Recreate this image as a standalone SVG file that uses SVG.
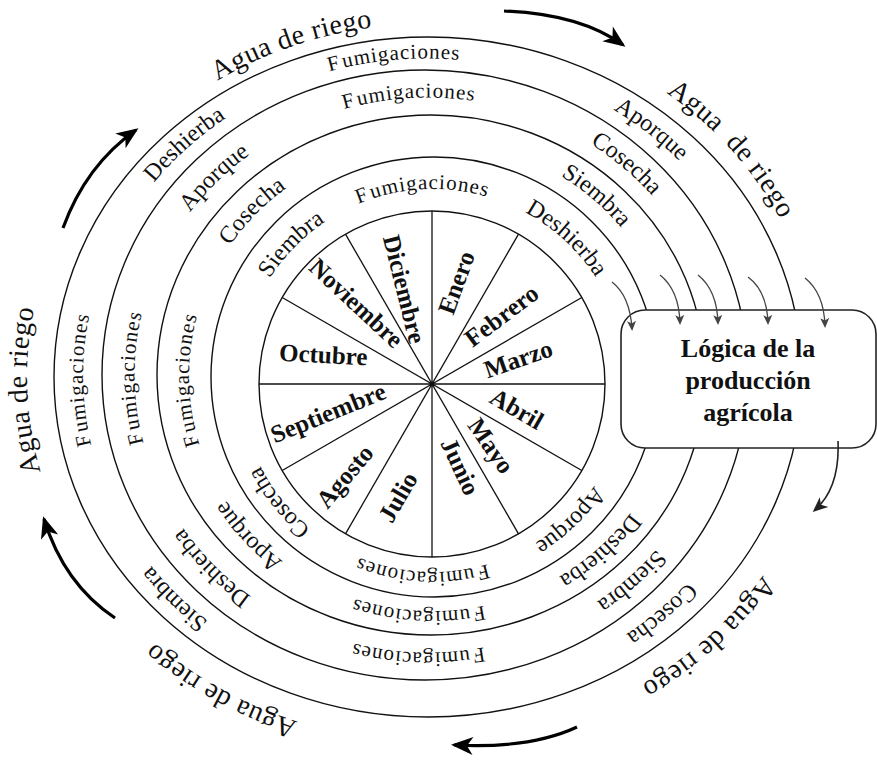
<svg xmlns="http://www.w3.org/2000/svg" width="877" height="765" viewBox="0 0 877 765">
<style>
.ring{fill:none;stroke:#111;stroke-width:1.4}
.spoke{stroke:#111;stroke-width:1.3}
.lbl{font-family:"Liberation Serif","Times New Roman",serif;font-size:24px;fill:#111;text-anchor:middle}
.fum{font-family:"Liberation Serif","Times New Roman",serif;font-size:21px;letter-spacing:1px;fill:#111;text-anchor:middle}
.agua{font-family:"Liberation Serif","Times New Roman",serif;font-size:28px;letter-spacing:0.5px;fill:#111;text-anchor:middle}
.mon{font-family:"Liberation Serif","Times New Roman",serif;font-size:25px;font-weight:bold;fill:#111;text-anchor:middle}
.boxt{font-family:"Liberation Serif","Times New Roman",serif;font-size:26px;font-weight:bold;fill:#111;text-anchor:middle}
.big{fill:none;stroke:#000;stroke-width:3.2}
.small{fill:none;stroke:#444;stroke-width:1.3}
.med{fill:none;stroke:#222;stroke-width:1.6}
</style>
<defs>
<marker id="bigHead" markerUnits="userSpaceOnUse" orient="auto" overflow="visible" refX="0" refY="0" markerWidth="1" markerHeight="1"><path d="M3,0 L-19,-9 L-13,0 L-19,9 Z" fill="#000"/></marker>
<marker id="smallHead" markerUnits="userSpaceOnUse" orient="auto" overflow="visible" refX="0" refY="0" markerWidth="1" markerHeight="1"><path d="M2,0 L-8,-4.5 L-5.5,0 L-8,4.5 Z" fill="#444"/></marker>
<marker id="medHead" markerUnits="userSpaceOnUse" orient="auto" overflow="visible" refX="0" refY="0" markerWidth="1" markerHeight="1"><path d="M3,0 L-12,-6.5 L-8,0 L-12,6.5 Z" fill="#222"/></marker>
<path id="pD1" d="M181.1,153.8 A343.5,317.5 0 0 1 620.6,114.0"/>
<path id="pD2" d="M84.3,348.3 A343.5,317.5 0 0 1 396.6,59.7"/>
<path id="pD3" d="M433.1,58.6 A343.5,317.5 0 0 1 765.9,326.9"/>
<path id="pD4" d="M166.1,583.0 A343.5,317.5 0 0 1 160.7,174.9"/>
<path id="pD5" d="M382.8,690.9 A343.5,317.5 0 0 1 83.4,391.0"/>
<path id="pD6" d="M767.7,412.5 A343.5,317.5 0 0 1 446.9,692.9"/>
<path id="pC1" d="M224.9,174.7 A293.5,277.5 0 0 1 601.3,151.1"/>
<path id="pC2" d="M135.1,357.6 A293.5,277.5 0 0 1 395.3,99.2"/>
<path id="pC3" d="M439.8,97.7 A293.5,277.5 0 0 1 718.9,337.8"/>
<path id="pC4" d="M205.1,555.6 A293.5,277.5 0 0 1 201.2,198.9"/>
<path id="pC5" d="M390.2,650.2 A293.5,277.5 0 0 1 134.8,387.6"/>
<path id="pC6" d="M608.7,593.7 A293.5,277.5 0 0 1 231.6,581.2"/>
<path id="pC7" d="M719.7,405.4 A293.5,277.5 0 0 1 446.9,651.9"/>
<path id="pB1" d="M189.3,363.7 A243.5,235 0 0 1 402.8,142.8"/>
<path id="pB2" d="M439.7,141.1 A243.5,235 0 0 1 673.4,342.1"/>
<path id="pB3" d="M248.7,530.2 A243.5,235 0 0 1 243.3,228.1"/>
<path id="pB4" d="M396.9,608.5 A243.5,235 0 0 1 189.1,382.6"/>
<path id="pB5" d="M577.7,564.7 A243.5,235 0 0 1 265.2,546.8"/>
<path id="pB6" d="M674.3,403.8 A243.5,235 0 0 1 446.1,610.6"/>
<path id="pA1" d="M300.9,240.9 A193,191.5 0 0 1 548.6,227.2"/>
<path id="pA2" d="M240.5,367.1 A193,191.5 0 0 1 412.8,190.1"/>
<path id="pA3" d="M443.1,189.3 A193,191.5 0 0 1 624.6,357.2"/>
<path id="pA4" d="M394.5,568.1 A193,191.5 0 0 1 240.1,375.5"/>
<path id="pA5" d="M548.6,533.8 A193,191.5 0 0 1 300.9,520.1"/>
<path id="pA6" d="M625.1,399.5 A193,191.5 0 0 1 447.5,571.5"/>
<path id="pE1" d="M88.6,208.5 A385,351 0 0 1 553.7,43.2"/>
<path id="pE2" d="M506.9,26.6 A392.5,357.7 0 0 1 820.3,387.0"/>
<path id="pE3" d="M130,621.6 A401,365.5 0 0 1 112,152"/>
<path id="pE4" d="M483.6,737.9 A399.7,364.4 0 0 1 47.9,489.6"/>
<path id="pE5" d="M826.2,404.9 A399.4,364 0 0 1 467,739.3"/>
</defs>
<rect width="877" height="765" fill="#fff"/>
<g id="rings">
<circle class="ring" cx="432" cy="384" r="173"/>
<ellipse class="ring" cx="434" cy="377" rx="223" ry="220"/>
<ellipse class="ring" cx="431" cy="375" rx="274" ry="260"/>
<ellipse class="ring" cx="425" cy="375" rx="323" ry="305"/>
<ellipse class="ring" cx="428" cy="377" rx="374" ry="340"/>
</g>
<g id="spokes">
<line class="spoke" x1="432" y1="211" x2="432" y2="557"/>
<line class="spoke" x1="259" y1="384" x2="605" y2="384"/>
<line class="spoke" x1="518.5" y1="234.2" x2="345.5" y2="533.8"/>
<line class="spoke" x1="581.8" y1="297.5" x2="282.2" y2="470.5"/>
<line class="spoke" x1="581.8" y1="470.5" x2="282.2" y2="297.5"/>
<line class="spoke" x1="518.5" y1="533.8" x2="345.5" y2="234.2"/>
<circle cx="432" cy="384" r="2.5" fill="#111"/>
</g>
<g id="months">
<text class="mon" transform="translate(456.7,282.7) rotate(-70)" y="8">Enero</text>
<text class="mon" transform="translate(501.7,316) rotate(-37)" y="8">Febrero</text>
<text class="mon" transform="translate(518.3,359.3) rotate(-19)" y="8">Marzo</text>
<text class="mon" transform="translate(516.7,409.3) rotate(30)" y="8">Abril</text>
<text class="mon" transform="translate(490.7,446) rotate(55)" y="8">Mayo</text>
<text class="mon" transform="translate(460,466.7) rotate(65)" y="8">Junio</text>
<text class="mon" transform="translate(398.3,497.3) rotate(-60)" y="8">Julio</text>
<text class="mon" transform="translate(345,476.7) rotate(-50)" y="8">Agosto</text>
<text class="mon" transform="translate(328.3,413.3) rotate(-22)" y="8">Septiembre</text>
<text class="mon" transform="translate(323.3,355) rotate(3)" y="8">Octubre</text>
<text class="mon" transform="translate(356,303.3) rotate(43)" y="8">Noviembre</text>
<text class="mon" transform="translate(404,289.3) rotate(76)" y="8">Diciembre</text>
</g>
<g id="ring-labels">
<text class="fum"><textPath href="#pD1" startOffset="50%">F<tspan dx="2">umigaciones</tspan></textPath></text>
<text class="lbl"><textPath href="#pD2" startOffset="50%">Deshierba</textPath></text>
<text class="lbl"><textPath href="#pD3" startOffset="50%">Aporque</textPath></text>
<text class="fum"><textPath href="#pD4" startOffset="50%">F<tspan dx="2">umigaciones</tspan></textPath></text>
<text class="lbl"><textPath href="#pD5" startOffset="50%">Siembra</textPath></text>
<text class="lbl"><textPath href="#pD6" startOffset="50%">Cosecha</textPath></text>
<text class="fum"><textPath href="#pC1" startOffset="50%">F<tspan dx="2">umigaciones</tspan></textPath></text>
<text class="lbl"><textPath href="#pC2" startOffset="50%">Aporque</textPath></text>
<text class="lbl"><textPath href="#pC3" startOffset="50%">Cosecha</textPath></text>
<text class="fum"><textPath href="#pC4" startOffset="50%">F<tspan dx="2">umigaciones</tspan></textPath></text>
<text class="lbl"><textPath href="#pC5" startOffset="50%">Deshierba</textPath></text>
<text class="fum"><textPath href="#pC6" startOffset="50%">F<tspan dx="2">umigaciones</tspan></textPath></text>
<text class="lbl"><textPath href="#pC7" startOffset="50%">Siembra</textPath></text>
<text class="lbl"><textPath href="#pB1" startOffset="50%">Cosecha</textPath></text>
<text class="lbl"><textPath href="#pB2" startOffset="50%">Siembra</textPath></text>
<text class="fum"><textPath href="#pB3" startOffset="50%">F<tspan dx="2">umigaciones</tspan></textPath></text>
<text class="lbl"><textPath href="#pB4" startOffset="50%">Aporque</textPath></text>
<text class="fum"><textPath href="#pB5" startOffset="50%">F<tspan dx="2">umigaciones</tspan></textPath></text>
<text class="lbl"><textPath href="#pB6" startOffset="50%">Deshierba</textPath></text>
<text class="fum"><textPath href="#pA1" startOffset="50%">F<tspan dx="2">umigaciones</tspan></textPath></text>
<text class="lbl"><textPath href="#pA2" startOffset="50%">Siembra</textPath></text>
<text class="lbl"><textPath href="#pA3" startOffset="50%">Deshierba</textPath></text>
<text class="lbl"><textPath href="#pA4" startOffset="50%">Cosecha</textPath></text>
<text class="fum"><textPath href="#pA5" startOffset="50%">F<tspan dx="2">umigaciones</tspan></textPath></text>
<text class="lbl"><textPath href="#pA6" startOffset="50%">Aporque</textPath></text>
<text class="agua"><textPath href="#pE1" startOffset="50%">Agua de riego</textPath></text>
<text class="agua"><textPath href="#pE2" startOffset="50%">Agua<tspan dx="7"> de riego</tspan></textPath></text>
<text class="agua"><textPath href="#pE3" startOffset="50%">Agua de riego</textPath></text>
<text class="agua"><textPath href="#pE4" startOffset="50%">Agua de riego</textPath></text>
<text class="agua"><textPath href="#pE5" startOffset="50%">Agua de riego</textPath></text>
</g>
<g id="box">
<rect x="621" y="310" width="255" height="138" rx="24" fill="#fff" stroke="#222" stroke-width="1.6"/>
<text class="boxt" x="748" y="357">Lógica de la</text>
<text class="boxt" x="748" y="389">producción</text>
<text class="boxt" x="748" y="421">agrícola</text>
</g>
<g id="connectors">
<path class="big" d="M504,11 Q580,14 623,45" marker-end="url(#bigHead)"/>
<path class="big" d="M63,228 Q86,165 136,130" marker-end="url(#bigHead)"/>
<path class="big" d="M115,618 Q64,584 44,519" marker-end="url(#bigHead)"/>
<path class="big" d="M577,727 Q530,749 454,745" marker-end="url(#bigHead)"/>
<path class="small" d="M612,282 Q630,296 632,329" marker-end="url(#smallHead)"/>
<path class="small" d="M660,275 Q679,290 680,323" marker-end="url(#smallHead)"/>
<path class="small" d="M698,275 Q717,290 718,323" marker-end="url(#smallHead)"/>
<path class="small" d="M748,277 Q767,291 768,323" marker-end="url(#smallHead)"/>
<path class="small" d="M805,278 Q824,293 825,326" marker-end="url(#smallHead)"/>
<path class="med" d="M838,441 Q840,488 815,510" marker-end="url(#medHead)"/>
</g>
</svg>
